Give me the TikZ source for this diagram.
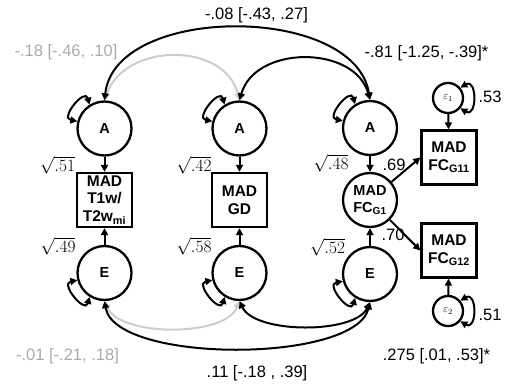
\documentclass[tikz,border=0pt]{standalone}
\usepackage{fontspec}
\setmainfont{Liberation Sans}
\usetikzlibrary{arrows.meta,positioning}
\definecolor{CovGray}{RGB}{205,205,205}
\definecolor{LabelGray}{RGB}{170,170,170}

\begin{document}
\begin{tikzpicture}[x=1pt,y=1pt,
    lat/.style={draw,circle,line width=2.3pt,minimum size=54pt,inner sep=0pt,
                align=center,font=\fontsize{14.5}{17}\selectfont\bfseries},
    obs/.style={draw,rectangle,line width=2.3pt,minimum width=55pt,
                minimum height=54pt,inner sep=0pt,align=center,
                font=\fontsize{15.5}{17.5}\selectfont\bfseries},
    err/.style={draw,circle,line width=2.3pt,minimum size=30pt,inner sep=0pt,
                font=\fontsize{11}{12}\selectfont},
    arr/.style={-{Triangle[length=7pt,width=7pt]},line width=2pt},
    cov/.style={{Triangle[length=7pt,width=7pt]}-{Triangle[length=7pt,width=7pt]},
                line width=2pt},
    lbl/.style={font=\fontsize{16.5}{18}\selectfont},
    gry/.style={lbl,text=LabelGray}
  ]
    \useasboundingbox (0,0) rectangle (508,383);

    % T1w/T2w column
    \node[lat] (a_1) at (104.5,254.5) {A};
    \node[obs] (y_1) at (104.5,183)   {MAD\\T1w/\\T2w\textsubscript{mi}};
    \node[lat] (e_1) at (104.5,110)   {E};
    \draw[arr] (a_1)--(y_1); \draw[arr] (e_1)--(y_1);
    \node[lbl] at (57.5,218) {$\sqrt{.51}$};
    \node[lbl] at (58,137)   {$\sqrt{.49}$};

    % GD column
    \node[lat] (a_2) at (239.5,254.5) {A};
    \node[obs] (y_2) at (239.5,183)   {MAD\\GD};
    \node[lat] (e_2) at (239.5,110)   {E};
    \draw[arr] (a_2)--(y_2); \draw[arr] (e_2)--(y_2);
    \node[lbl] at (194,218) {$\sqrt{.42}$};
    \node[lbl] at (194,137) {$\sqrt{.58}$};

    % FC column with two indicators
    \node[lat] (a_3)  at (370,255) {A};
    \node[lat] (fc_1) at (370,183) {MAD\\FC\textsubscript{G1}};
    \node[lat] (e_3)  at (370,109) {E};
    \node[obs] (y_11) at (449,225.5) {MAD\\FC\textsubscript{G11}};
    \node[obs] (y_12) at (449,132.5) {MAD\\FC\textsubscript{G12}};
    \node[err] (eps_1) at (448,285) {$\varepsilon_1$};
    \node[err] (eps_2) at (448,72)  {$\varepsilon_2$};
    \draw[arr] (a_3)--(fc_1); \draw[arr] (e_3)--(fc_1);
    \draw[arr] (fc_1)--(y_11.west); \draw[arr] (fc_1)--(y_12.west);
    \draw[arr] (eps_1)--(y_11); \draw[arr] (eps_2)--(y_12);
    \node[lbl] at (331,220) {$\sqrt{.48}$};
    \node[lbl] at (327.5,136) {$\sqrt{.52}$};
    \node[lbl] at (394,218) {.69};
    \node[lbl] at (393,148) {.70};
    \node[lbl] at (490,286) {.53};
    \node[lbl] at (490,68)  {.51};

    % variances
    \foreach \n in {a_1,a_2,a_3}
      \draw[cov] (\n.165) to[out=170,in=105,looseness=2.2] (\n.122);
    \foreach \n in {e_1,e_2,e_3}
      \draw[cov] (\n.195) to[out=190,in=255,looseness=2.2] (\n.238);
    \foreach \n in {eps_1,eps_2}
      \draw[cov] (\n.40) to[out=30,in=-30,looseness=2.4] (\n.-40);

    % covariances
    \draw[cov,CovGray] (a_1.north) .. controls +(20.5,58.5) and +(-14.5,58.5) .. (a_2.north);
    \draw[cov] (a_1.north) .. controls +(10.5,96.5) and +(-15,96) .. (a_3.north);
    \draw[cov] (a_2.north) .. controls +(15.5,55.5) and +(-15,55) .. (a_3.north);
    \draw[cov,CovGray] (e_1.south) .. controls +(15.5,-36) and +(-14.5,-36) .. (e_2.south);
    \draw[cov] (e_1.south) .. controls +(10.5,-62.5) and +(-15,-61.5) .. (e_3.south);
    \draw[cov] (e_2.south) .. controls +(15.5,-33) and +(-15,-32) .. (e_3.south);

    \node[lbl] at (256.5,368) {-.08 [-.43, .27]};
    \node[gry] at (66,331)    {-.18 [-.46, .10]};
    \node[lbl] at (426.5,330) {-.81 [-1.25, -.39]*};
    \node[gry] at (67.5,27)   {-.01 [-.21, .18]};
    \node[lbl] at (257,10)    {.11 [-.18 , .39]};
    \node[lbl] at (436.5,27)  {.275 [.01, .53]*};
  \end{tikzpicture}
\end{document}
